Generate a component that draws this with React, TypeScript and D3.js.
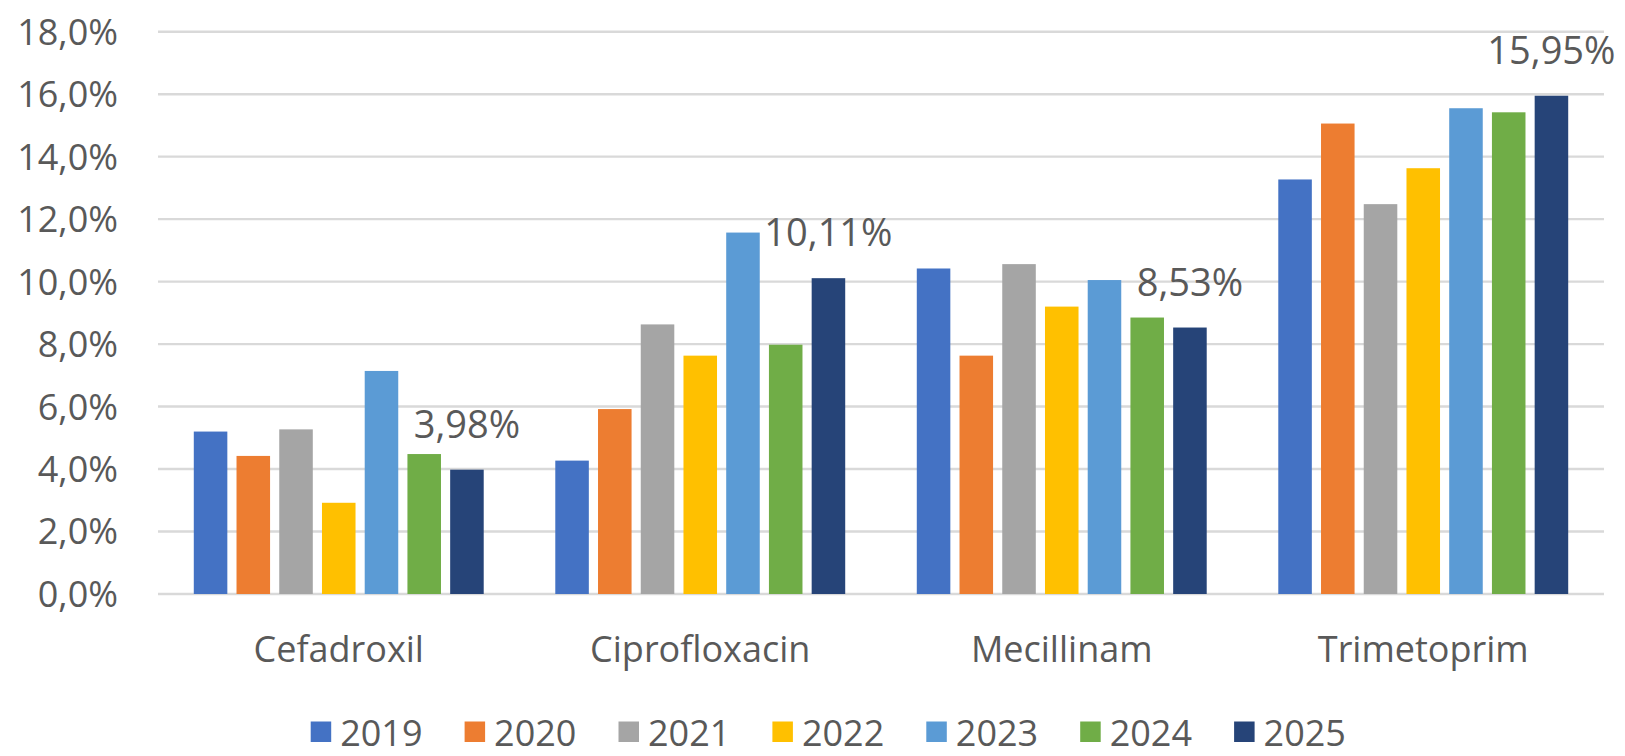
import React from "react";
import * as d3 from "d3";

const categories = ["Cefadroxil", "Ciprofloxacin", "Mecillinam", "Trimetoprim"];
const years = ["2019", "2020", "2021", "2022", "2023", "2024", "2025"];

// Share (%) per drug, one array per year
const v2019 = [5.2, 4.27, 10.42, 13.27];
const v2020 = [4.42, 5.92, 7.63, 15.06];
const v2021 = [5.27, 8.63, 10.56, 12.48];
const v2022 = [2.92, 7.63, 9.2, 13.63];
const v2023 = [7.14, 11.57, 10.05, 15.55];
const v2024 = [4.48, 7.98, 8.85, 15.42];
const v2025 = [3.98, 10.11, 8.53, 15.95];

const seriesValues = [v2019, v2020, v2021, v2022, v2023, v2024, v2025];
const colors = ["#4472C4", "#ED7D31", "#A5A5A5", "#FFC000", "#5B9BD5", "#70AD47", "#264478"];
const yTicks = [0, 2, 4, 6, 8, 10, 12, 14, 16, 18];
// Only the latest year carries value labels
const labelledSeries = "2025";

const W = 1625;
const H = 756;
const left = 158;
const right = 1604;
const top = 31.7;
const bottom = 594;

const fmt = (v: number, digits: number) => v.toFixed(digits).replace(".", ",") + "%";

export default function App() {
  const y = d3.scaleLinear().domain([0, 18]).range([bottom, top]);
  const x0 = d3.scaleBand<string>().domain(categories).range([left, right]).paddingInner(0.198).paddingOuter(0.099);
  const x1 = d3.scaleBand<string>().domain(years).range([0, x0.bandwidth()]).paddingInner(0.215).paddingOuter(0);

  const textColor = "#595959";
  const font = "'Open Sans', sans-serif";

  const legendX0 = 310.7;
  const legendStep = 153.9;

  return (
    <svg
      width={W}
      height={H}
      style={{ position: "absolute", left: 0, top: 0, background: "#fff" }}
      fontFamily={font}
    >
      <rect x={0} y={0} width={W} height={H} fill="#fff" />
      {/* gridlines and y tick labels */}
      {yTicks.map((t) => (
        <g key={t}>
          <line x1={left} x2={right} y1={y(t)} y2={y(t)} stroke="#d9d9d9" strokeWidth={2.4} />
          <text x={118} y={y(t)} dy="0.36em" textAnchor="end" fontSize={36} fill={textColor}>
            {fmt(t, 1)}
          </text>
        </g>
      ))}
      {/* bars */}
      {years.map((yr, si) => (
        <g key={yr} fill={colors[si]}>
          {categories.map((c, ci) => {
            const v = seriesValues[si][ci];
            return (
              <rect
                key={c}
                x={(x0(c) ?? 0) + (x1(yr) ?? 0)}
                y={y(v)}
                width={x1.bandwidth()}
                height={y(0) - y(v)}
              />
            );
          })}
        </g>
      ))}
      {/* value labels */}
      {years.map((yr, si) =>
        yr === labelledSeries
          ? categories.map((c, ci) => {
              const v = seriesValues[si][ci];
              return (
                <text
                  key={c}
                  x={(x0(c) ?? 0) + (x1(yr) ?? 0) + x1.bandwidth() / 2}
                  y={y(v) - 32}
                  textAnchor="middle"
                  fontSize={38}
                  fill={textColor}
                >
                  {fmt(v, 2)}
                </text>
              );
            })
          : null
      )}
      {/* category labels */}
      {categories.map((c) => (
        <text
          key={c}
          x={(x0(c) ?? 0) + x0.bandwidth() / 2}
          y={661.7}
          textAnchor="middle"
          fontSize={36}
          fill={textColor}
        >
          {c}
        </text>
      ))}
      {/* legend */}
      {years.map((yr, i) => (
        <g key={yr} transform={`translate(${legendX0 + i * legendStep},0)`}>
          <rect x={0} y={721.5} width={20.5} height={20.5} fill={colors[i]} />
          <text x={29.5} y={746} fontSize={36} fill={textColor}>
            {yr}
          </text>
        </g>
      ))}
    </svg>
  );
}
